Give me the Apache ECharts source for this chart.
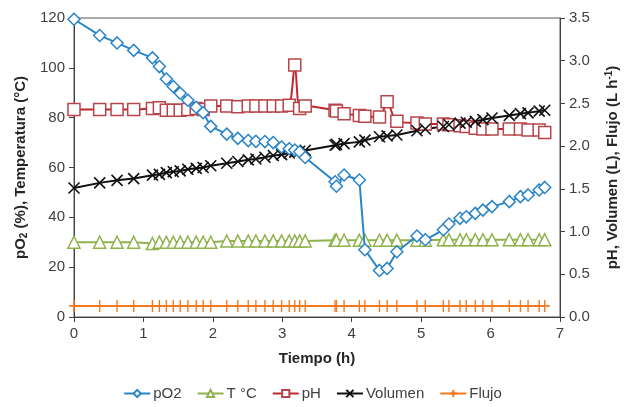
<!DOCTYPE html>
<html>
<head>
<meta charset="utf-8">
<script src="https://cdn.jsdelivr.net/npm/echarts@6/dist/echarts.min.js"></script>
<style>
  html, body { margin: 0; padding: 0; background: #fff; }
  #chart { width: 625px; height: 407px; }
</style>
</head>
<body>
<div id="chart"></div>
<script>
// sampling times (h)
const tiempo = [0, 0.37, 0.62, 0.86, 1.13, 1.23, 1.33, 1.43, 1.53, 1.64, 1.76, 1.86, 1.97, 2.20, 2.36, 2.51, 2.62, 2.75, 2.87, 2.99,
  3.10, 3.18, 3.25, 3.33, 3.76, 3.78, 3.89, 4.11, 4.19, 4.40, 4.51, 4.65, 4.94, 5.06, 5.32, 5.40, 5.56, 5.65, 5.78, 5.89,
  6.02, 6.27, 6.43, 6.54, 6.70, 6.78]

// left axis
const pO2 = [119.5, 113, 110, 107, 104, 100.5, 95.5, 92.5, 89.8, 87, 84.2, 82, 76.5, 73.4, 71.7, 70.8, 70.5, 70.4, 70, 68.2,
  67.5, 67, 66.3, 64, 54.3, 52.5, 57, 55, 27, 18.7, 19.5, 26.2, 32.5, 31, 35, 37.3, 39.6, 40.2, 41.6, 42.9,
  44.3, 46.3, 48.3, 49, 51, 52]
const temp = [30, 30, 30, 30, 29.5, 30, 30, 30, 30, 30, 30, 30, 30, 30.5, 30.5, 30.5, 30.5, 30.5, 30.5, 30.5,
  30.5, 30.5, 30.5, 30.5, 30.8, 30.8, 30.8, 30.8, 30.8, 30.8, 30.8, 30.8, 30.8, 30.8, 31, 31, 31, 31, 31, 31,
  31, 31, 31, 31, 31, 31]

// right axis
const pH = [2.43, 2.43, 2.43, 2.43, 2.44, 2.45, 2.42, 2.42, 2.42, 2.43, 2.44, 2.43, 2.47, 2.47, 2.46, 2.47, 2.47, 2.47, 2.47, 2.47,
  2.48, 2.95, 2.44, 2.47, 2.42, 2.41, 2.38, 2.36, 2.35, 2.34, 2.52, 2.29, 2.27, 2.26, 2.26, 2.25, 2.24, 2.23, 2.21, 2.20,
  2.20, 2.20, 2.20, 2.19, 2.19, 2.16]
const volumen = [1.51, 1.57, 1.60, 1.62, 1.66, 1.67, 1.69, 1.70, 1.71, 1.73, 1.74, 1.75, 1.77, 1.80, 1.82, 1.84, 1.85, 1.87, 1.89, 1.90,
  1.92, 1.93, 1.94, 1.95, 2.01, 2.02, 2.03, 2.05, 2.07, 2.11, 2.12, 2.13, 2.18, 2.20, 2.23, 2.25, 2.27, 2.28, 2.29, 2.31,
  2.33, 2.36, 2.38, 2.39, 2.41, 2.42]
const flujo = [0.13, 0.13, 0.13, 0.13, 0.13, 0.13, 0.13, 0.13, 0.13, 0.13, 0.13, 0.13, 0.13, 0.13, 0.13, 0.13, 0.13, 0.13, 0.13, 0.13,
  0.13, 0.13, 0.13, 0.13, 0.13, 0.13, 0.13, 0.13, 0.13, 0.13, 0.13, 0.13, 0.13, 0.13, 0.13, 0.13, 0.13, 0.13, 0.13, 0.13,
  0.13, 0.13, 0.13, 0.13, 0.13, 0.13]

const pairs = (vals) => tiempo.map((t, i) => [t, vals[i]])

const txt = '#404040'
const axisLine = { show: true, lineStyle: { color: '#404040', width: 1 } }

const chart = echarts.init(document.getElementById('chart'))
chart.setOption({
  animation: false,
  textStyle: { fontFamily: 'Liberation Sans, Arial, sans-serif' },
  grid: {
    left: 74, right: 65, top: 18, bottom: 90,
    outerBoundsMode: 'none',
    containLabel: false,
    show: true, borderColor: '#595959', borderWidth: 1
  },
  legend: {
    bottom: 1,
    left: 'center',
    itemWidth: 26,
    itemHeight: 9,
    itemGap: 15,
    textStyle: { color: txt, fontSize: 15, padding: [0, 0, 0, -2] },
    data: ['pO2', 'T °C', 'pH', 'Volumen', 'Flujo']
  },
  xAxis: {
    type: 'value',
    min: 0, max: 7, interval: 1,
    name: 'Tiempo (h)',
    nameLocation: 'middle',
    nameGap: 34,
    nameTextStyle: { color: '#262626', fontWeight: 'bold', fontSize: 15 },
    axisLine: axisLine,
    axisTick: { show: true, inside: false, length: 5, lineStyle: { color: '#404040' } },
    axisLabel: { color: txt, fontSize: 15, margin: 9 },
    splitLine: { show: false }
  },
  yAxis: [{
    type: 'value',
    min: 0, max: 120, interval: 20,
    name: '{b|pO}{s|2}{b| (%), Temperatura (°C)}',
    nameLocation: 'middle',
    nameGap: 41,
    nameRotate: 90,
    nameTextStyle: {
      rich: {
        b: { fontWeight: 'bold', fontSize: 15, color: '#262626' },
        s: { fontWeight: 'bold', fontSize: 10, color: '#262626', verticalAlign: 'bottom', padding: [7, 0, 0, 0] }
      }
    },
    axisLine: axisLine,
    axisTick: { show: true, length: 5, lineStyle: { color: '#404040' } },
    axisLabel: { color: txt, fontSize: 15, margin: 9 },
    splitLine: { show: false }
  }, {
    type: 'value',
    min: 0, max: 3.5, interval: 0.5,
    name: '{b|pH, Volumen (L), Flujo (L h}{s|-1}{b|)}',
    nameLocation: 'middle',
    nameGap: 44,
    nameRotate: 90,
    nameTextStyle: {
      rich: {
        b: { fontWeight: 'bold', fontSize: 15, color: '#262626' },
        s: { fontWeight: 'bold', fontSize: 10, color: '#262626', verticalAlign: 'top', padding: [0, 0, 7, 0] }
      }
    },
    axisLine: axisLine,
    axisTick: { show: true, length: 5, lineStyle: { color: '#404040' } },
    axisLabel: { color: txt, fontSize: 15, margin: 9, formatter: (v) => v.toFixed(1) },
    splitLine: { show: false }
  }],
  series: [
    {
      name: 'pO2', type: 'line', yAxisIndex: 0, z: 5,
      data: pairs(pO2),
      symbol: 'diamond', symbolSize: 12,
      lineStyle: { color: '#2A85C8', width: 2 },
      itemStyle: { color: '#fff', borderColor: '#2A85C8', borderWidth: 1.5 }
    },
    {
      name: 'T °C', type: 'line', yAxisIndex: 0, z: 3,
      data: pairs(temp),
      symbol: 'triangle', symbolSize: 12,
      lineStyle: { color: '#8FB24C', width: 2 },
      itemStyle: { color: '#fff', borderColor: '#8FB24C', borderWidth: 1.5 }
    },
    {
      name: 'pH', type: 'line', yAxisIndex: 1, z: 4,
      data: pairs(pH),
      smooth: 0.3,
      symbol: 'rect', symbolSize: 12,
      lineStyle: { color: '#C0272D', width: 2 },
      itemStyle: { color: '#fff', borderColor: '#B8444A', borderWidth: 1.5 }
    },
    {
      name: 'Volumen', type: 'line', yAxisIndex: 1, z: 4,
      data: pairs(volumen),
      symbol: 'path://M0,0L10,10M10,0L0,10', symbolSize: 11,
      lineStyle: { color: '#111', width: 2 },
      itemStyle: { color: 'none', borderColor: '#111', borderWidth: 1.6 }
    },
    {
      name: 'Flujo', type: 'line', yAxisIndex: 1, z: 3,
      data: pairs(flujo),
      symbol: 'path://M5,0L5,10M0,5L10,5', symbolSize: [10, 12],
      lineStyle: { color: '#F47A20', width: 2 },
      itemStyle: { color: 'none', borderColor: '#F47A20', borderWidth: 1.5 }
    }
  ]
})
</script>
</body>
</html>
